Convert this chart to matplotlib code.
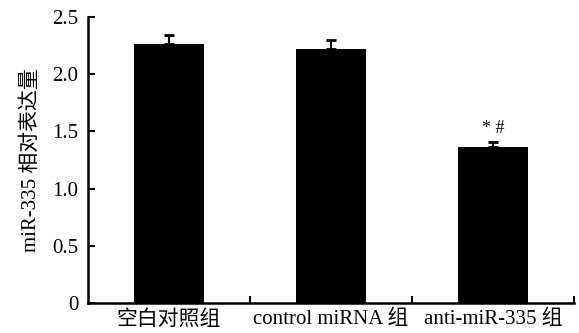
import matplotlib.pyplot as plt
import numpy as np

plt.rcParams['font.family'] = ['Liberation Serif', 'Noto Sans CJK SC']

groups = ['空白对照组', 'control miRNA 组', 'anti-miR-335 组']
means = [2.26, 2.22, 1.36]
errs = [0.08, 0.08, 0.05]
yticks = [0, 0.5, 1.0, 1.5, 2.0, 2.5]
ytick_labels = ['0', '0.5', '1.0', '1.5', '2.0', '2.5']

fig = plt.figure(figsize=(5.79, 3.33), dpi=100)
ax = fig.add_axes([88/579, 30/333, 486/579, 286/333])

x = np.arange(len(groups))
ax.bar(x, means, width=0.43, color='black', zorder=2)
ax.errorbar(x, means, yerr=[np.zeros(3), errs], fmt='none', ecolor='black',
            elinewidth=1.5, capsize=3.6, capthick=2, zorder=3)
ax.text(x[2], means[2] + errs[2] + 0.04, '* #', ha='center', va='bottom', fontsize=13)

ax.set_xlim(-0.5, 2.5)
ax.set_ylim(0, 2.5)
ax.set_yticks(yticks)
ax.set_yticklabels(ytick_labels, fontsize=15)
ax.set_xticks(x)
ax.set_xticklabels(groups, fontsize=15)
ax.tick_params(axis='x', length=0, pad=5)
ax.set_xticks([0.5, 1.5, 2.5], minor=True)
ax.tick_params(axis='x', which='minor', direction='in', length=5, width=1.5)
ax.tick_params(axis='y', direction='in', length=5, width=1.5, pad=7)
ax.set_ylabel('miR-335 相对表达量', fontsize=15, labelpad=8)

for s in ['top', 'right']:
    ax.spines[s].set_visible(False)
for s in ['left', 'bottom']:
    ax.spines[s].set_linewidth(1.8)

fig.savefig('out.png', dpi=100)
